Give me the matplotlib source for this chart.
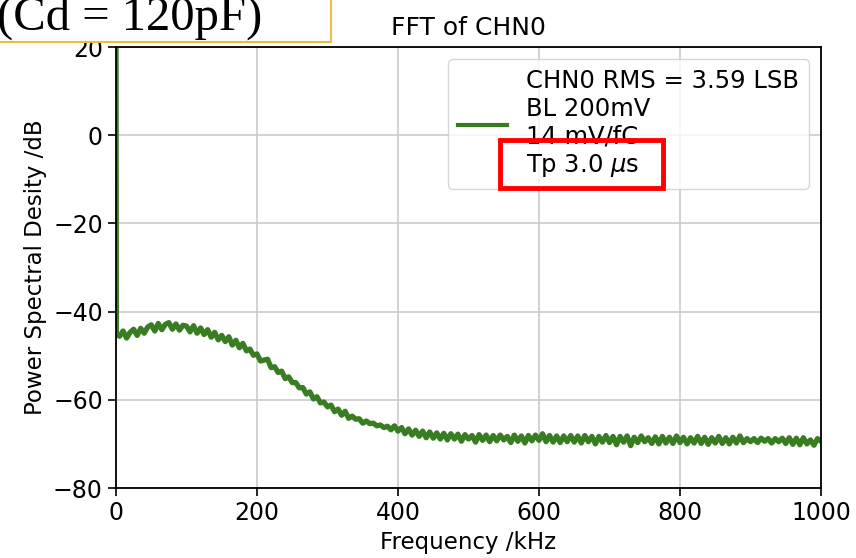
import numpy as np
import matplotlib.pyplot as plt
from matplotlib.patches import Rectangle

# frequency axis, kHz (DC, then 5 kHz steps)
freq_khz = np.concatenate([[0, 0.5], np.arange(5, 1001, 5)])

# power spectral density, dB
psd_db = [
    25.0, -45.0, -45.6, -44.4, -46.0, -44.7, -44.0, -45.4, -43.8, -44.9, -43.5,
    -43.0, -44.4, -42.7, -44.1, -42.9, -42.5, -44.0, -42.8, -44.2, -43.1,
    -43.3, -44.6, -43.2, -44.9, -43.7, -45.2, -44.1, -45.8, -44.7, -46.4,
    -45.4, -46.8, -45.7, -47.6, -46.5, -48.2, -47.2, -48.9, -48.5, -49.9,
    -49.6, -51.2, -51.0, -50.8, -52.7, -52.5, -53.8, -53.5, -55.2, -54.8,
    -56.1, -56.1, -57.3, -57.2, -58.7, -58.2, -59.8, -59.3, -60.7, -60.5,
    -61.6, -61.2, -62.7, -62.1, -63.5, -62.6, -64.2, -63.7, -64.4, -64.3,
    -65.3, -64.8, -65.4, -65.3, -65.9, -65.7, -66.3, -66.0, -66.8, -65.9,
    -67.1, -66.3, -67.7, -66.6, -68.0, -66.9, -68.3, -67.1, -68.6, -67.3,
    -68.7, -67.5, -68.9, -67.6, -69.1, -67.7, -68.9, -67.8, -69.4, -67.9,
    -68.9, -68.1, -69.6, -67.9, -69.2, -68.0, -69.5, -68.1, -69.3, -68.0,
    -69.1, -68.3, -69.7, -68.0, -69.4, -68.2, -69.8, -68.1, -69.3, -68.0,
    -69.2, -67.7, -69.5, -68.1, -69.6, -68.2, -69.7, -68.2, -69.5, -68.1,
    -69.6, -68.2, -69.8, -68.1, -69.5, -68.3, -70.0, -68.3, -69.6, -68.1,
    -69.7, -68.3, -70.2, -68.3, -69.6, -68.2, -70.4, -68.5, -69.7, -68.2,
    -69.5, -68.6, -69.9, -68.4, -70.0, -68.3, -69.8, -68.5, -69.9, -68.2,
    -69.7, -68.5, -70.0, -68.6, -69.8, -68.3, -69.9, -68.5, -70.1, -68.6,
    -69.8, -68.3, -69.9, -68.6, -70.0, -68.5, -69.8, -68.2, -69.7, -68.8,
    -69.5, -68.8, -69.7, -68.7, -69.4, -68.8, -69.8, -68.8, -69.5, -68.7,
    -69.9, -68.6, -70.1, -68.7, -70.2, -68.6, -70.0, -69.1, -70.3, -68.8,
    -69.4,
]

legend_label = "CHN0 RMS = 3.59 LSB\nBL 200mV\n14 mV/fC\nTp 3.0 $\\mu$s"

fig = plt.figure(figsize=(8.56, 5.58), dpi=100)
ax = fig.add_axes([116 / 856, 1 - 488 / 558, 705 / 856, 441 / 558])

ax.plot(freq_khz, psd_db, color="#387d22", lw=3.8, label=legend_label)
ax.set_xlim(0, 1000)
ax.set_ylim(-80, 20)
ax.set_xticks([0, 200, 400, 600, 800, 1000])
ax.set_yticks([-80, -60, -40, -20, 0, 20])
ax.grid(True, color="#cccccc", lw=1.2)
ax.tick_params(labelsize=17, length=6, width=1.2)
for s in ax.spines.values():
    s.set_linewidth(1.3)
ax.set_xlabel("Frequency /kHz", fontsize=16.5)
ax.set_ylabel("Power Spectral Desity /dB", fontsize=16.5)
ax.set_title("FFT of CHN0", fontsize=18, pad=9)
leg = ax.legend(loc="upper right", fontsize=17.5, handlelength=2.0,
                borderpad=0.4, labelspacing=0.1, handletextpad=0.8,
                framealpha=0.8)
for line in leg.get_lines():
    line.set_linewidth(3)

# red highlight around "Tp 3.0 us"
fig.patches.append(Rectangle((500 / 856, 1 - 188 / 558), 163 / 856, 48 / 558,
                             transform=fig.transFigure, fill=False,
                             edgecolor="#ff0000", lw=3.5))

# cropped annotation box at top left
fig.patches.append(Rectangle((-0.02, 1 - 42 / 558), 331 / 856 + 0.02, 0.2,
                             transform=fig.transFigure, facecolor="white",
                             edgecolor="#e8c040", lw=1.5, zorder=5))
fig.text(-3 / 856, 1 - 30 / 558, "(Cd = 120pF)", fontsize=35,
         family="Liberation Serif", ha="left", va="baseline", zorder=6)

fig.savefig("out.png", dpi=100)
